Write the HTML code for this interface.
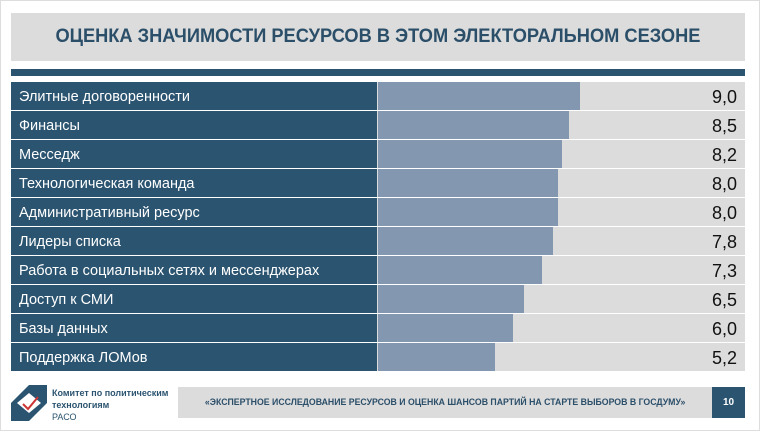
<!DOCTYPE html><html><head><meta charset="utf-8"><style>
body{margin:0;width:760px;height:431px;background:#fff;font-family:"Liberation Sans",sans-serif;position:relative;overflow:hidden}
.a{position:absolute}
.t{left:11px;top:13px;width:734px;height:48px;background:#dcdcdc;color:#2b4e69;font-weight:bold;font-size:19px;line-height:48px;text-align:center;white-space:nowrap}
.row{position:absolute;left:11px;width:734px;height:28px;background:#dcdcdc}
.lab{position:absolute;left:0;top:0;width:366px;height:28px;background:#2b5470;color:#fff;font-size:14.5px;line-height:30px;padding-left:8px;box-sizing:border-box}
.bar{position:absolute;left:367px;top:0;height:28px;background:#8497b0}
.v{position:absolute;right:8px;top:0;font-size:18px;line-height:30px;color:#111}
</style></head><body>
<div style="position:absolute;left:0;top:0;width:758px;height:429px;border:1px solid #ddd"></div>
<div class="a t"><span style="display:inline-block;transform:scaleX(0.96)">ОЦЕНКА ЗНАЧИМОСТИ РЕСУРСОВ В ЭТОМ ЭЛЕКТОРАЛЬНОМ СЕЗОНЕ</span></div>
<div class="a" style="left:11px;top:69px;width:734px;height:7px;background:#2b5470"></div>
<div class="row" style="top:82px"><div class="lab">Элитные договоренности</div><div class="bar" style="width:202px"></div><div class="v">9,0</div></div>
<div class="row" style="top:111px"><div class="lab">Финансы</div><div class="bar" style="width:191px"></div><div class="v">8,5</div></div>
<div class="row" style="top:140px"><div class="lab">Месседж</div><div class="bar" style="width:184px"></div><div class="v">8,2</div></div>
<div class="row" style="top:169px"><div class="lab">Технологическая команда</div><div class="bar" style="width:180px"></div><div class="v">8,0</div></div>
<div class="row" style="top:198px"><div class="lab">Административный ресурс</div><div class="bar" style="width:180px"></div><div class="v">8,0</div></div>
<div class="row" style="top:227px"><div class="lab">Лидеры списка</div><div class="bar" style="width:175px"></div><div class="v">7,8</div></div>
<div class="row" style="top:256px"><div class="lab">Работа в социальных сетях и мессенджерах</div><div class="bar" style="width:164px"></div><div class="v">7,3</div></div>
<div class="row" style="top:285px"><div class="lab">Доступ к СМИ</div><div class="bar" style="width:146px"></div><div class="v">6,5</div></div>
<div class="row" style="top:314px"><div class="lab">Базы данных</div><div class="bar" style="width:135px"></div><div class="v">6,0</div></div>
<div class="row" style="top:343px"><div class="lab">Поддержка ЛОМов</div><div class="bar" style="width:117px"></div><div class="v">5,2</div></div>
<svg class="a" style="left:11px;top:385px" width="36" height="36"><rect width="36" height="36" fill="#2b5470"/><polygon points="0,0 18,0 0,18" fill="#fff"/><polygon points="36,36 18,36 36,18" fill="#fff"/><polygon points="18,8 30,18 18,28 6,18" fill="#fff"/><path d="M12 19 L17 24 L27 12" stroke="#c33" stroke-width="2" fill="none"/></svg>
<div class="a" style="left:52px;top:387px;font-size:9px;line-height:12px;color:#2b5470;font-weight:bold;white-space:nowrap">Комитет по политическим<br>технологиям<br><span style="font-weight:normal">РАСО</span></div>
<div class="a" style="left:178px;top:387px;width:534px;height:31px;background:#dcdcdc;color:#2b4e69;font-size:9.5px;font-weight:bold;line-height:31px;text-align:center;white-space:nowrap;overflow:hidden"><span style="display:inline-block;transform:scaleX(0.92)">«ЭКСПЕРТНОЕ ИССЛЕДОВАНИЕ РЕСУРСОВ И ОЦЕНКА ШАНСОВ ПАРТИЙ НА СТАРТЕ ВЫБОРОВ В ГОСДУМУ»</span></div>
<div class="a" style="left:712px;top:387px;width:33px;height:31px;background:#2b5470;color:#fff;font-size:10px;font-weight:bold;line-height:31px;text-align:center">10</div>
</body></html>
